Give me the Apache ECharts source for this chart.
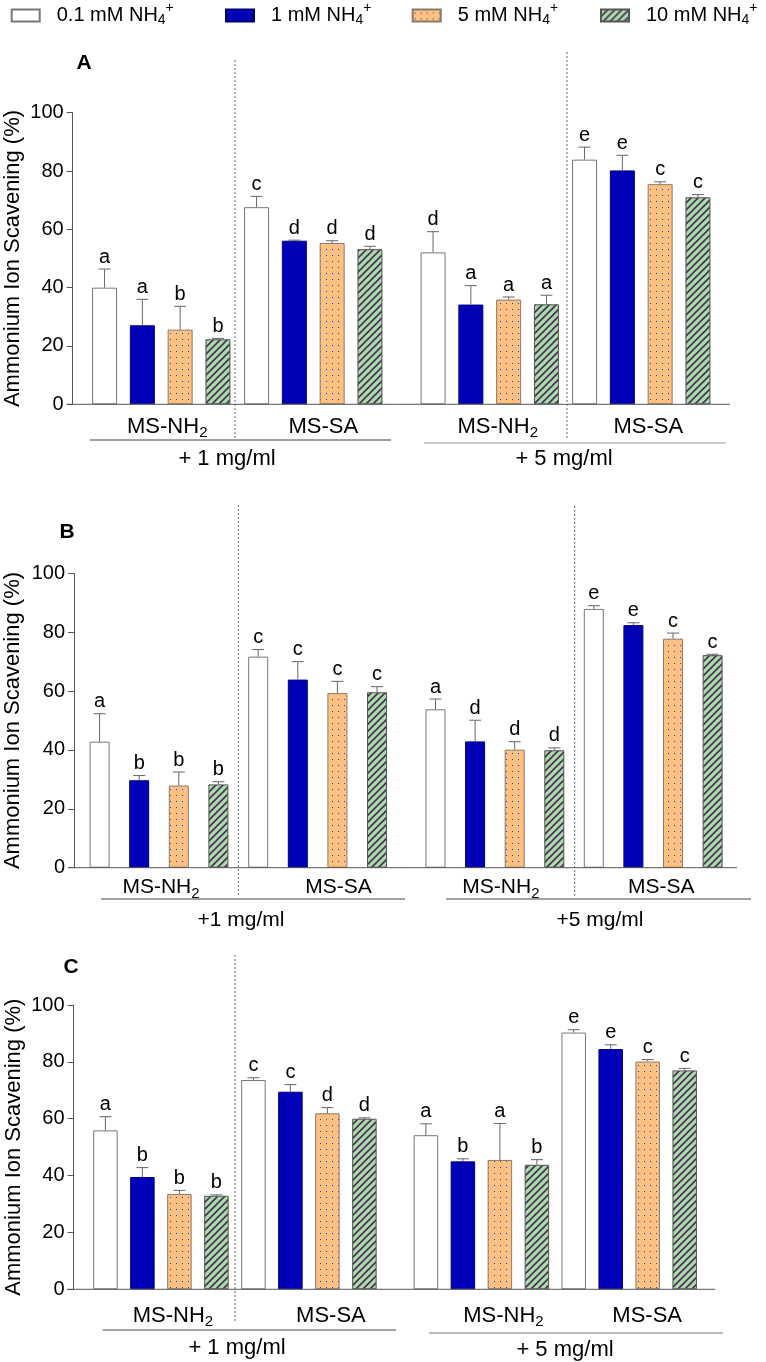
<!DOCTYPE html>
<html><head><meta charset="utf-8">
<script src="https://cdn.jsdelivr.net/npm/echarts@6/dist/echarts.min.js"></script>
<style>html,body{margin:0;padding:0;background:#fff}#c{width:766px;height:1362px}</style>
</head><body><div id="c"></div>
<script>
// ---------------- DATA ----------------
const seriesNames = ['0.1 mM NH4+', '1 mM NH4+', '5 mM NH4+', '10 mM NH4+'];
const groupLabels = ['MS-NH2', 'MS-SA'];
const yTicks = [0, 20, 40, 60, 80, 100];
const yName = 'Ammonium Ion Scavening (%)';
const doseA = ['+ 1 mg/ml', '+ 5 mg/ml'];
const doseB = ['+1 mg/ml', '+5 mg/ml'];
const doseC = ['+ 1 mg/ml', '+ 5 mg/ml'];
// one inner array per NH4+ level, across [1mg MS-NH2, 1mg MS-SA, 5mg MS-NH2, 5mg MS-SA]
const meanA = [[40.0, 67.6, 52.1, 83.9], [27.1, 56.1, 34.2, 80.2], [25.6, 55.3, 35.9, 75.5], [22.3, 53.2, 34.3, 71.0]];
const errA  = [[6.4, 3.7, 7.1, 4.3], [8.9, 0.2, 6.5, 5.2], [8.0, 0.8, 0.9, 0.8], [0.3, 1.0, 3.1, 0.9]];
const letA  = [['a', 'c', 'd', 'e'], ['a', 'd', 'a', 'e'], ['b', 'd', 'a', 'c'], ['b', 'd', 'a', 'c']];
const meanB = [[42.8, 71.7, 53.8, 87.9], [29.7, 63.9, 42.9, 82.4], [27.9, 59.3, 40.1, 77.8], [28.3, 59.6, 39.9, 72.2]];
const errB  = [[9.5, 2.4, 3.5, 1.1], [1.6, 6.1, 7.2, 0.8], [4.6, 4.0, 2.7, 1.9], [0.9, 1.9, 0.8, 0.3]];
const letB  = [['a', 'c', 'a', 'e'], ['b', 'c', 'd', 'e'], ['b', 'c', 'd', 'c'], ['b', 'c', 'd', 'c']];
const meanC = [[55.9, 73.6, 54.2, 90.3], [39.5, 69.5, 45.0, 84.5], [33.5, 61.9, 45.5, 80.1], [32.9, 60.0, 43.8, 77.0]];
const errC  = [[4.8, 0.8, 4.0, 1.0], [3.3, 2.5, 0.9, 1.5], [1.3, 2.0, 12.8, 0.7], [0.3, 0.3, 1.8, 0.7]];
const letC  = [['a', 'c', 'a', 'e'], ['b', 'c', 'b', 'e'], ['b', 'd', 'a', 'c'], ['b', 'd', 'b', 'c']];

// ---------------- LAYOUT ----------------
const FONT = '"Liberation Sans", Arial, Helvetica, sans-serif';
const AXIS = '#555';
const panels = [
  { key: 'A', mean: meanA, err: errA, lets: letA, dose: doseA, fs: 22,
    top: 112.7, height: 291.6, grids: [[85.25, 304], [414, 303]], barW: 25, pitch: 37.8,
    yAxisX: 72.7, nameGap: 49, labelMargin: 8, labelShift: [[6, 10], [8, 7]],
    xLine: [67, 730], seps: [[235, 60, 438], [567, 52, 438]],
    under: [[90, 391, 440, '#444'], [424, 726, 443, '#999']],
    doseX: [227, 564], doseY: [459, 459], title: [84, 63] },
  { key: 'B', mean: meanB, err: errB, lets: letB, dose: doseB, fs: 21,
    top: 573.3, height: 294.4, grids: [[79.7, 317.2], [415.75, 316.6]], barW: 20, pitch: 39.6,
    yAxisX: 74, nameGap: 50, labelMargin: 5, labelShift: [[2, 21], [6, 8]],
    xLine: [68, 737], seps: [[238.3, 505, 896], [574.7, 506, 896]],
    under: [[101, 405, 899, '#444'], [446, 751, 899, '#444']],
    doseX: [241, 600], doseY: [920, 920], title: [67, 532] },
  { key: 'C', mean: meanC, err: errC, lets: letC, dose: doseC, fs: 22,
    top: 1005, height: 284.3, grids: [[86.9, 296], [407.5, 295.6]], barW: 24.5, pitch: 37,
    yAxisX: 73.5, nameGap: 49, labelMargin: 12, labelShift: [[12, 22], [22, 18]],
    xLine: [67, 715], seps: [[235, 955, 1321]],
    under: [[102.7, 396, 1330, '#444'], [429, 723, 1333, '#777']],
    doseX: [237, 565], doseY: [1348, 1350], title: [71, 967] }
];

// ---------------- PATTERNS ----------------
function dotPattern() {
  const c = document.createElement('canvas'); c.width = 6; c.height = 6;
  const g = c.getContext('2d');
  g.fillStyle = '#ffc080'; g.fillRect(0, 0, 6, 6);
  g.fillStyle = '#1f3fd8'; g.fillRect(2, 3, 1, 1);
  return c;
}
function hatchPattern() {
  const s = 7;
  const c = document.createElement('canvas'); c.width = s; c.height = s;
  const g = c.getContext('2d');
  g.fillStyle = '#a8dca8'; g.fillRect(0, 0, s, s);
  g.strokeStyle = '#4d2d58'; g.lineWidth = 1.6;
  g.beginPath();
  g.moveTo(-1, s + 1); g.lineTo(s + 1, -1);
  g.moveTo(-1, 1); g.lineTo(1, -1);
  g.moveTo(s - 1, s + 1); g.lineTo(s + 1, s - 1);
  g.stroke();
  return c;
}
const barStyles = [
  { color: '#ffffff', borderColor: '#777', borderWidth: 1 },
  { color: '#0000b8', borderColor: '#00007a', borderWidth: 1 },
  { color: { image: dotPattern(), repeat: 'repeat' }, borderColor: '#8a7a6a', borderWidth: 1 },
  { color: { image: hatchPattern(), repeat: 'repeat' }, borderColor: '#555', borderWidth: 1 }
];

// ---------------- BUILD ----------------
const grids = [], xAxes = [], yAxes = [], series = [], graphic = [];
let gi = 0;
panels.forEach((p) => {
  p.grids.forEach((gr, half) => {
    grids.push({ left: gr[0], width: gr[1], top: p.top, height: p.height });
    const shifts = p.labelShift[half];
    const rich = { s: { fontSize: 15, fontFamily: FONT, color: '#000', lineHeight: 30, padding: [12, 0, 0, 0] } };
    shifts.forEach((sh, i) => { rich['m' + i] = { fontSize: p.fs, fontFamily: FONT, color: '#000', lineHeight: 30, padding: [0, 0, 0, 2 * sh] }; });
    xAxes.push({
      gridIndex: gi, type: 'category', data: groupLabels,
      axisLine: { show: false }, axisTick: { show: false }, splitLine: { show: false },
      axisLabel: {
        margin: p.labelMargin, interval: 0,
        formatter: (v, i) => {
          const m = v.match(/^(.*?)(\d)?$/);
          return '{m' + i + '|' + m[1] + '}' + (m[2] ? '{s|' + m[2] + '}' : '');
        },
        rich: rich
      }
    });
    yAxes.push({
      gridIndex: gi, type: 'value', min: yTicks[0], max: yTicks[yTicks.length - 1],
      interval: yTicks[1] - yTicks[0], show: half === 0,
      offset: half === 0 ? gr[0] - p.yAxisX : 0,
      name: half === 0 ? yName : '', nameLocation: 'middle', nameGap: p.nameGap,
      nameTextStyle: { fontSize: 22, fontFamily: FONT, color: '#000' },
      axisLine: { show: true, lineStyle: { color: AXIS, width: 1 } },
      axisTick: { show: true, length: 6, lineStyle: { color: AXIS } },
      axisLabel: { fontSize: 20, fontFamily: FONT, color: '#000', margin: 9 },
      splitLine: { show: false }
    });
    const barGap = ((p.pitch - p.barW) / p.barW * 100).toFixed(1) + '%';
    const errData = [], errLetters = [];
    for (let s = 0; s < 4; s++) {
      const vals = [p.mean[s][2 * half], p.mean[s][2 * half + 1]];
      series.push({
        type: 'bar', name: seriesNames[s], xAxisIndex: gi, yAxisIndex: gi,
        data: vals, barWidth: p.barW, barGap: barGap,
        itemStyle: barStyles[s], emphasis: { disabled: true }, z: 2
      });
      for (let c = 0; c < 2; c++) {
        errData.push([c, p.mean[s][2 * half + c], p.err[s][2 * half + c], s]);
        errLetters.push(p.lets[s][2 * half + c]);
      }
    }
    const pitch = p.pitch;
    series.push({
      type: 'custom', xAxisIndex: gi, yAxisIndex: gi, data: errData, z: 5, silent: true,
      renderItem: (params, api) => {
        const cat = api.value(0), v = api.value(1), e = api.value(2), s = api.value(3);
        const base = api.coord([cat, v]);
        const top = api.coord([cat, v + e]);
        const x = base[0] + (s - 1.5) * pitch;
        return { type: 'group', children: [
          { type: 'line', shape: { x1: x, y1: base[1], x2: x, y2: top[1] }, style: { stroke: '#666', lineWidth: 1 } },
          { type: 'line', shape: { x1: x - 6, y1: top[1], x2: x + 6, y2: top[1] }, style: { stroke: '#666', lineWidth: 1 } },
          { type: 'text', x: x, y: top[1] - 2, style: { text: errLetters[params.dataIndex], fontSize: 20, fontFamily: FONT, fill: '#000', align: 'center', verticalAlign: 'bottom' } }
        ] };
      }
    });
    gi++;
  });
  // decorations
  const zeroY = p.top + p.height;
  graphic.push({ type: 'line', shape: { x1: p.xLine[0], y1: zeroY, x2: p.xLine[1], y2: zeroY }, style: { stroke: AXIS, lineWidth: 1 }, z: 10 });
  p.seps.forEach(s => graphic.push({ type: 'line', shape: { x1: s[0], y1: s[1], x2: s[0], y2: s[2] }, style: { stroke: '#666', lineWidth: 1, lineDash: [2, 2] }, z: 10 }));
  p.under.forEach(u => graphic.push({ type: 'line', shape: { x1: u[0], y1: u[2], x2: u[1], y2: u[2] }, style: { stroke: u[3], lineWidth: 1.2 }, z: 10 }));
  p.dose.forEach((t, i) => graphic.push({ type: 'text', x: p.doseX[i], y: p.doseY[i], style: { text: t, fontSize: p.fs, fontFamily: FONT, fill: '#000', align: 'center', verticalAlign: 'middle' }, z: 10 }));
  graphic.push({ type: 'text', x: p.title[0], y: p.title[1], style: { text: p.key, fontSize: 21, fontWeight: 'bold', fontFamily: FONT, fill: '#000', align: 'center', verticalAlign: 'middle' }, z: 10 });
});

// legends, one per item
const legendLeft = [10.7, 225, 411.7, 600];
const legends = seriesNames.map((n, i) => ({
  data: [n], left: legendLeft[i], top: 1.5, padding: 0, orient: 'horizontal',
  icon: 'rect', itemWidth: 28, itemHeight: 12, selectedMode: false,
  formatter: (name) => {
    const m = name.match(/^(.*NH)(\d)(\+)$/);
    return '{t|' + m[1] + '}{sub|' + m[2] + '}{sup|' + m[3] + '}';
  },
  textStyle: {
    rich: {
      t: { fontSize: 20, fontFamily: FONT, color: '#000', lineHeight: 26, padding: [0, 0, 0, 12] },
      sub: { fontSize: 14, fontFamily: FONT, color: '#000', lineHeight: 26, padding: [10, 0, 0, 0] },
      sup: { fontSize: 14, fontFamily: FONT, color: '#000', lineHeight: 26, padding: [0, 0, 14, 0] }
    }
  }
}));

const chart = echarts.init(document.getElementById('c'), null, { renderer: 'canvas' });
chart.setOption({
  animation: false,
  backgroundColor: '#fff',
  textStyle: { fontFamily: FONT },
  legend: legends,
  grid: grids, xAxis: xAxes, yAxis: yAxes, series: series, graphic: graphic
});
</script></body></html>
